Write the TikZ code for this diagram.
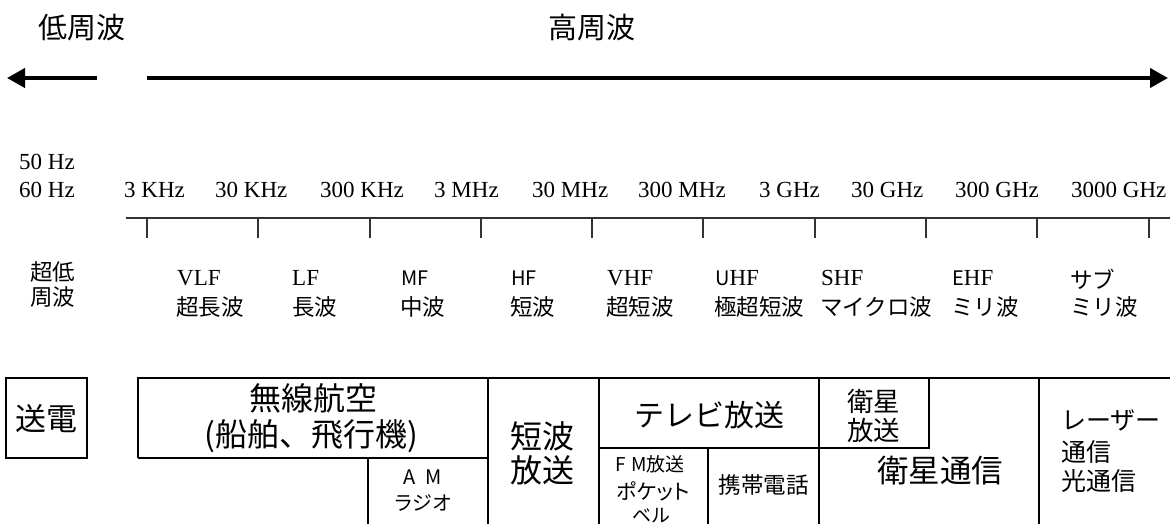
\documentclass[tikz,border=0pt]{standalone}
\usepackage{fontspec}
\setmainfont{Liberation Serif}
\newfontfamily\cjk{Noto Sans CJK JP}
\newfontfamily\cjkp[RawFeature=+palt]{Noto Sans CJK JP}
\usetikzlibrary{arrows.meta}
\begin{document}
\begin{tikzpicture}[x=1pt,y=-1pt,
  jp/.style={inner sep=0pt, font=\cjk\fontsize{#1}{#1}\selectfont},
  rm/.style={inner sep=0pt, font=\fontsize{#1}{#1}\selectfont},
  boxline/.style={line width=1.3pt, black},
  axisline/.style={line width=1.2pt, black!80},
  bigarrow/.style={line width=4pt, -{Triangle[length=18pt,width=19pt]}}]
\useasboundingbox (0,0) rectangle (1170,524);

% titles and arrows
\node[jp=29] (low) at (82,27.5) {低周波};
\node[jp=29] (high) at (592,27.5) {高周波};
\coordinate (la) at (97,78); \coordinate (lt) at (7,78);
\coordinate (ra) at (147,78); \coordinate (rt) at (1168,78);
\draw[bigarrow] (la) -- (lt);
\draw[bigarrow] (ra) -- (rt);

% frequency labels
\node[rm=23, anchor=base west] (f50) at (19,170) {50 Hz};
\node[rm=23, anchor=base west] (f60) at (19,197) {60 Hz};
\foreach \x/\t [count=\i] in {124/3 KHz, 215/30 KHz, 320/300 KHz, 434/3 MHz, 532/30 MHz, 638/300 MHz, 759/3 GHz, 851/30 GHz, 955/300 GHz, 1071/3000 GHz}
  \node[rm=23, anchor=base west] (fq\i) at (\x,197) {\t};

% axis
\coordinate (ax0) at (126,218); \coordinate (ax1) at (1170,218);
\draw[axisline] (ax0) -- (ax1);
\foreach \x [count=\i] in {147,258,370,481,592,703,815,926,1037,1149}
  \draw[axisline] (\x,218) -- (\x,238);

% band labels
\node[jp=22.5] (elf1) at (52.5,271.5) {超低};
\node[jp=22.5] (elf2) at (52.5,297.5) {周波};
\node[rm=23, anchor=base west] (vlf) at (177,285) {VLF};
\node[rm=23, anchor=base west] (lf) at (292,285) {LF};
\node[jp=20, anchor=base west] (mf) at (401,285) {MF};
\node[jp=20, anchor=base west] (hf) at (511,285) {HF};
\node[rm=23, anchor=base west] (vhf) at (607,285) {VHF};
\node[rm=23, anchor=base west] (uhf) at (715,285) {{\cjk\fontsize{20}{20}\selectfont U}HF};
\node[rm=23, anchor=base west] (shf) at (821,285) {SHF};
\node[rm=23, anchor=base west] (ehf) at (952,285) {{\cjk\fontsize{20}{20}\selectfont E}HF};
\node[jp=22.5, anchor=west] (sub) at (1070,279) {サブ};
\node[jp=22.5, anchor=west] (vlfj) at (176,307) {超長波};
\node[jp=22.5, anchor=west] (lfj) at (292,307) {長波};
\node[jp=22.5, anchor=west] (mfj) at (400,307) {中波};
\node[jp=22.5, anchor=west] (hfj) at (510,307) {短波};
\node[jp=22.5, anchor=west] (vhfj) at (606,307) {超短波};
\node[jp=22.5, anchor=west] (uhfj) at (714,307) {極超短波};
\node[jp=22.5, anchor=west] (shfj) at (820,307) {マイクロ波};
\node[jp=22.5, anchor=west] (ehfj) at (951,307) {ミリ波};
\node[jp=22.5, anchor=west] (subj) at (1070,307) {ミリ波};

% boxes
\draw[boxline] (6,378) rectangle (87,458);
\draw[boxline] (138,458) -- (138,378) -- (1170,378);
\draw[boxline] (138,458) -- (488,458);
\draw[boxline] (368,458) -- (368,524);
\draw[boxline] (488,378) -- (488,524);
\draw[boxline] (599,378) -- (599,524);
\draw[boxline] (599,448) -- (929,448) -- (929,378);
\draw[boxline] (708,448) -- (708,524);
\draw[boxline] (819,378) -- (819,524);
\draw[boxline] (1039,378) -- (1039,524);

% box texts
\node[jp=31] (soden) at (46.5,419) {送電};
\node[jp=32] (musen1) at (313,398) {無線航空};
\node[jp=32] (musen2) at (311,436) {(船舶、飛行機)};
\node[jp=20] (am1) at (423,477) {A\hspace{10pt}M};
\node[jp=20] (am2) at (423,503) {ラジオ};
\node[jp=32] (sw1) at (542.5,436) {短波};
\node[jp=32] (sw2) at (542.5,470) {放送};
\node[jp=30] (tv) at (709,415) {テレビ放送};
\node[jp=26.5] (bs1) at (873.5,401) {衛星};
\node[jp=26.5] (bs2) at (873.5,430) {放送};
\node[jp=19] (fm1) at (650,464) {F\hspace{5pt}M放送};
\node[inner sep=0pt, font=\cjkp\fontsize{21}{21}\selectfont] (fm2) at (653,491) {ポケット};
\node[jp=19] (fm3) at (651,516) {ベル};
\node[jp=22.5] (ktai) at (763.5,485) {携帯電話};
\node[jp=31.5] (sat) at (940,471) {衛星通信};
\node[jp=25, anchor=west] (laser1) at (1061,420) {レーザー};
\node[jp=25, anchor=west] (laser2) at (1061,452) {通信};
\node[jp=25, anchor=west] (laser3) at (1061,481) {光通信};
\end{tikzpicture}
\end{document}
